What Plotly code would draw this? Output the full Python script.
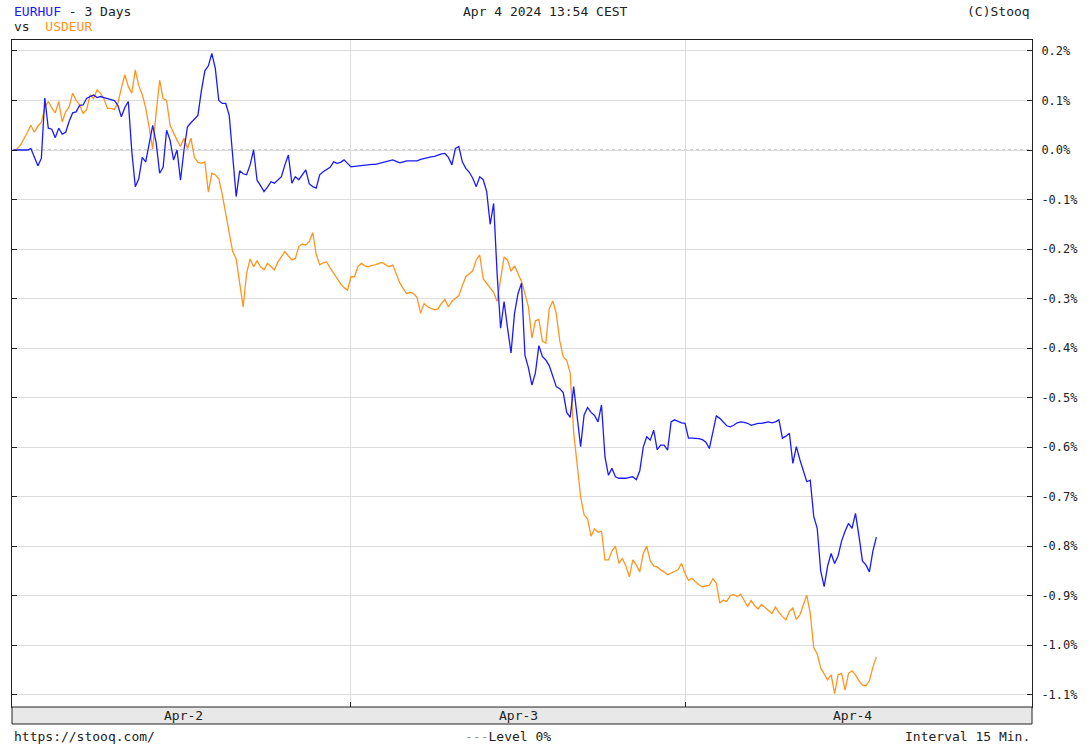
import pandas as pd
import plotly.graph_objects as go

# 15-minute changes in %, from Apr 1 23:45 onwards
eurhuf = [
    0.0, 0.0, 0.0, 0.0, 0.0, 0.003, -0.015, -0.032, -0.017, 0.105,
    0.044, 0.042, 0.025, 0.044, 0.032, 0.036, 0.058, 0.075, 0.077, 0.09,
    0.091, 0.104, 0.108, 0.111, 0.106, 0.108, 0.106, 0.104, 0.102, 0.1,
    0.09, 0.067, 0.086, 0.098, -0.003, -0.074, -0.058, -0.015, -0.024, 0.01,
    0.05, 0.015, -0.047, -0.035, 0.04, 0.02, -0.02, 0.0, -0.061, 0.0,
    0.047, 0.055, 0.062, 0.07, 0.12, 0.16, 0.17, 0.195, 0.165, 0.1,
    0.094, 0.094, 0.07, -0.02, -0.094, -0.042, -0.048, -0.05, -0.03, 0.0,
    -0.061, -0.072, -0.084, -0.075, -0.064, -0.067, -0.06, -0.054, -0.03, -0.01,
    -0.067, -0.054, -0.06, -0.05, -0.04, -0.068, -0.074, -0.077, -0.05, -0.044,
    -0.04, -0.035, -0.024, -0.027, -0.025, -0.02, -0.027, -0.034, -0.033, -0.032,
    -0.031, -0.03, -0.03, -0.029, -0.029, -0.027, -0.026, -0.024, -0.022, -0.02,
    -0.023, -0.026, -0.024, -0.022, -0.022, -0.022, -0.022, -0.019, -0.017, -0.015,
    -0.014, -0.013, -0.01, -0.008, -0.007, -0.015, -0.03, 0.003, 0.007, -0.024,
    -0.037, -0.045, -0.057, -0.074, -0.054, -0.06, -0.084, -0.15, -0.108, -0.25,
    -0.36, -0.306, -0.36, -0.41, -0.33, -0.29, -0.269, -0.415, -0.44, -0.475,
    -0.45, -0.395, -0.417, -0.424, -0.436, -0.455, -0.478, -0.482, -0.49, -0.53,
    -0.54, -0.478, -0.54, -0.599, -0.535, -0.52, -0.53, -0.536, -0.549, -0.515,
    -0.62, -0.657, -0.643, -0.66, -0.663, -0.663, -0.663, -0.661, -0.66, -0.666,
    -0.648, -0.6, -0.579, -0.586, -0.566, -0.605, -0.596, -0.596, -0.606, -0.549,
    -0.545, -0.548, -0.551, -0.552, -0.582, -0.582, -0.582, -0.583, -0.585, -0.59,
    -0.603, -0.57, -0.537, -0.542, -0.55, -0.557, -0.559, -0.556, -0.551, -0.549,
    -0.55, -0.552, -0.556, -0.554, -0.552, -0.552, -0.551, -0.549, -0.551, -0.549,
    -0.545, -0.582, -0.578, -0.572, -0.633, -0.599, -0.625, -0.646, -0.67, -0.667,
    -0.74, -0.764, -0.85, -0.882, -0.84, -0.815, -0.835, -0.82, -0.79, -0.77,
    -0.754, -0.764, -0.734, -0.78, -0.83, -0.838, -0.852, -0.81, -0.782,
]

usdeur = [
    0.0, 0.002, 0.01, 0.022, 0.036, 0.05, 0.036, 0.048, 0.056, 0.085,
    0.098, 0.085, 0.075, 0.098, 0.057, 0.077, 0.087, 0.115, 0.1, 0.091,
    0.074, 0.081, 0.111, 0.104, 0.121, 0.115, 0.103, 0.084, 0.084, 0.082,
    0.095, 0.125, 0.152, 0.128, 0.115, 0.162, 0.13, 0.112, 0.085, 0.045,
    0.002, 0.075, 0.141, 0.104, 0.1, 0.05, 0.034, 0.02, 0.007, 0.024,
    0.003, 0.024, -0.015, -0.025, -0.027, -0.024, -0.085, -0.047, -0.05, -0.058,
    -0.09, -0.13, -0.17, -0.205, -0.22, -0.27, -0.317, -0.249, -0.22, -0.236,
    -0.224, -0.236, -0.242, -0.229, -0.236, -0.242, -0.226, -0.216, -0.205, -0.214,
    -0.222, -0.219, -0.195, -0.19, -0.192, -0.185, -0.167, -0.21, -0.232, -0.228,
    -0.226, -0.238, -0.249, -0.26, -0.27, -0.278, -0.283, -0.256, -0.256, -0.235,
    -0.229, -0.234, -0.236, -0.233, -0.232, -0.229, -0.227, -0.232, -0.236, -0.232,
    -0.25, -0.268, -0.28, -0.29, -0.287, -0.29, -0.298, -0.33, -0.31, -0.316,
    -0.32, -0.323, -0.321, -0.31, -0.302, -0.317, -0.306, -0.3, -0.294, -0.274,
    -0.256, -0.25, -0.244, -0.222, -0.212, -0.26, -0.269, -0.278, -0.288, -0.306,
    -0.26, -0.216, -0.222, -0.245, -0.234, -0.25, -0.265, -0.29, -0.317, -0.38,
    -0.345, -0.342, -0.386, -0.39, -0.32, -0.305, -0.33, -0.385, -0.418, -0.425,
    -0.45, -0.57, -0.63, -0.7, -0.737, -0.745, -0.78, -0.765, -0.772, -0.77,
    -0.828, -0.828, -0.81, -0.8, -0.835, -0.825, -0.84, -0.862, -0.828, -0.838,
    -0.852, -0.815, -0.8, -0.83, -0.84, -0.842, -0.848, -0.852, -0.858, -0.855,
    -0.852, -0.848, -0.835, -0.855, -0.869, -0.865, -0.872, -0.878, -0.882, -0.881,
    -0.879, -0.866, -0.875, -0.915, -0.909, -0.912, -0.9, -0.898, -0.902, -0.897,
    -0.91, -0.922, -0.91, -0.92, -0.927, -0.918, -0.924, -0.93, -0.936, -0.923,
    -0.934, -0.942, -0.949, -0.932, -0.925, -0.948, -0.939, -0.919, -0.899, -0.936,
    -1.005, -1.018, -1.046, -1.058, -1.07, -1.06, -1.098, -1.06, -1.057, -1.091,
    -1.057, -1.052, -1.06, -1.072, -1.081, -1.082, -1.072, -1.045, -1.024,
]

start_time = "2024-04-01 23:45"
x_range = ["2024-04-01 23:38:30", "2024-04-05 00:56"]

y_ticks = [0.2, 0.1, 0.0, -0.1, -0.2, -0.3, -0.4, -0.5, -0.6, -0.7, -0.8, -0.9, -1.0, -1.1]
y_tick_text = ["0.2%", "0.1%", "0.0%", "-0.1%", "-0.2%", "-0.3%", "-0.4%", "-0.5%",
               "-0.6%", "-0.7%", "-0.8%", "-0.9%", "-1.0%", "-1.1%"]

day_breaks = ["2024-04-03 00:00", "2024-04-04 00:00"]
day_labels = ["Apr-2", "Apr-3", "Apr-4"]
day_centers = ["2024-04-02 12:00", "2024-04-03 12:00", "2024-04-04 12:00"]

BLUE = "#1a1aff"
ORANGE = "#ff9420"
MONO = "DejaVu Sans Mono"

times = pd.date_range(start_time, periods=len(eurhuf), freq="15min")

fig = go.Figure()
fig.add_trace(go.Scatter(x=times, y=usdeur, mode="lines",
                         line=dict(color=ORANGE, width=1.3), name="USDEUR"))
fig.add_trace(go.Scatter(x=times, y=eurhuf, mode="lines",
                         line=dict(color=BLUE, width=1.3), name="EURHUF"))

# plot area spans pixels 12..1032 x 40..707 (body margin removed below)
H = 667.0


def py(p):
    return (707 - p) / H


def px(p):
    return (p - 12) / 1020.0


# dashed zero level (white line first hides the grid line under it)
fig.add_shape(type="line", xref="paper", x0=0, x1=1, yref="y", y0=0, y1=0,
              line=dict(color="white", width=1.5), layer="between")
fig.add_shape(type="line", xref="paper", x0=0, x1=1, yref="y", y0=0, y1=0,
              line=dict(color="#999999", width=1, dash="3px,3px"), layer="between")

# grey strip with day labels under the plot
fig.add_shape(type="rect", xref="paper", yref="paper", x0=0, x1=1, y0=py(724), y1=0,
              fillcolor="#e8e8e8", line=dict(color="#222222", width=1))
for lab, cx in zip(day_labels, day_centers):
    fig.add_annotation(x=cx, xref="x", y=py(715.5), yref="paper", text=lab,
                       showarrow=False, font=dict(family=MONO, size=13, color="#222"),
                       xanchor="center", yanchor="middle")

txt = dict(showarrow=False, xref="paper", yref="paper", yanchor="middle",
           font=dict(family=MONO, size=13, color="#222"))
fig.add_annotation(x=0, y=py(11), xanchor="left",
                   text=f"<span style='color:{BLUE}'>EURHUF</span> - 3 Days", **txt)
fig.add_annotation(x=0, y=py(27), xanchor="left",
                   text=f"vs\u00a0\u00a0<span style='color:{ORANGE}'>USDEUR</span>", **txt)
fig.add_annotation(x=px(545), y=py(11), xanchor="center",
                   text="Apr 4 2024 13:54 CEST", **txt)
fig.add_annotation(x=1.0, y=py(11), xanchor="right", text="(C)Stooq", **txt)
fig.add_annotation(x=0, y=py(736), xanchor="left", text="https://stooq.com/", **txt)
fig.add_annotation(x=px(508), y=py(736), xanchor="center",
                   text="<span style='color:#999'>---</span>Level 0%", **txt)
fig.add_annotation(x=1.0, y=py(736), xanchor="right", text="Interval 15 Min.", **txt)

fig.update_layout(
    width=1090, height=750,
    margin=dict(l=12, r=58, t=40, b=43),
    paper_bgcolor="white", plot_bgcolor="white",
    showlegend=False,
    xaxis=dict(
        range=x_range, tickvals=day_breaks, showticklabels=False,
        showgrid=True, gridcolor="#dcdcdc", gridwidth=1,
        ticks="inside", ticklen=5, tickcolor="#222",
        showline=True, linecolor="#222", linewidth=1, mirror=True,
        zeroline=False,
    ),
    yaxis=dict(
        range=[-1.125, 0.2222], side="right",
        tickvals=y_ticks, ticktext=y_tick_text,
        tickfont=dict(family=MONO, size=12, color="#222"),
        showgrid=True, gridcolor="#dcdcdc", gridwidth=1,
        ticks="inside", ticklen=5, tickcolor="#222", ticklabelstandoff=6,
        showline=True, linecolor="#222", linewidth=1, mirror="ticks",
        zeroline=False,
    ),
)

fig.write_html("out.html", config={"displayModeBar": False},
               post_script="document.body.style.margin = '0';")
